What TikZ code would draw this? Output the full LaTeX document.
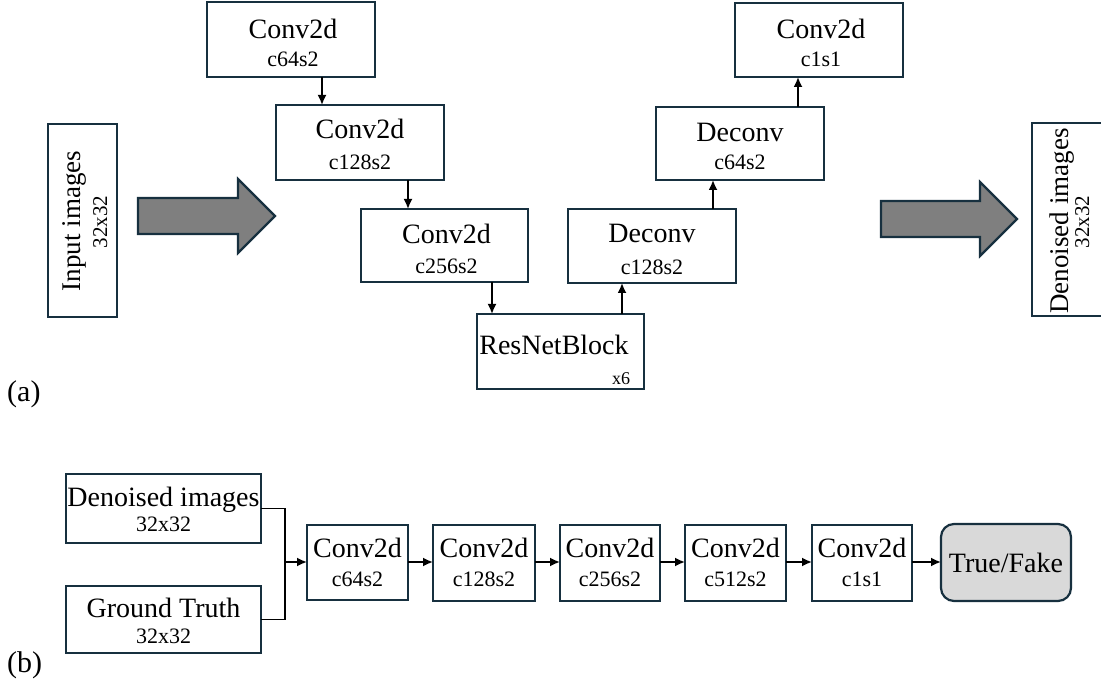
\documentclass[tikz,border=0pt]{standalone}
\usepackage{fontspec}
\setmainfont{Liberation Serif}
\usetikzlibrary{arrows.meta,calc}
\definecolor{edgec}{HTML}{17303F}
\definecolor{tffill}{HTML}{D9D9D9}
\definecolor{bigfill}{HTML}{7F7F7F}
\newcommand\titlesz{\fontsize{28}{30}\selectfont}
\newcommand\subsz{\fontsize{22}{24}\selectfont}
\newcommand\smallsz{\fontsize{18}{20}\selectfont}
\tikzset{
  box/.style={draw=edgec, line width=2.2pt, fill=white, inner sep=0pt, outer sep=0pt, anchor=north west},
  txt/.style={anchor=base, inner sep=0pt, font=\titlesz},
  stxt/.style={anchor=base, inner sep=0pt, font=\subsz},
  conn/.style={line width=1.8pt, -{Latex[length=10pt,width=9pt]}},
  line/.style={line width=1.8pt},
  bigarrow/.style={draw=edgec, line width=2.2pt, fill=bigfill, line join=miter},
}
\begin{document}
\begin{tikzpicture}[x=1pt,y=-1pt]
\clip (0,0) rectangle (1101,684);
\useasboundingbox (0,0) rectangle (1101,684);
% ---------- (a) ----------
\node[box, minimum width=69, minimum height=193] (inp) at (48,124) {};
\node[txt, rotate=90, font=\fontsize{27}{29}\selectfont] (inpt) at (80,221) {Input images};
\node[stxt, rotate=90, font=\fontsize{21}{23}\selectfont] (inps) at (107,222) {32x32};

\node[box, minimum width=71, minimum height=193] (outb) at (1032,123) {};
\node[txt, rotate=90, font=\fontsize{27}{29}\selectfont] (outt) at (1068,221) {Denoised images};
\node[stxt, rotate=90, font=\fontsize{21}{23}\selectfont] (outs) at (1089,222) {32x32};

\draw[bigarrow] (138,198) -- (238,198) -- (238,179) -- (275,216) -- (238,253) -- (238,234) -- (138,234) -- cycle;
\draw[bigarrow] (881,201) -- (980,201) -- (980,182) -- (1017,219) -- (980,256) -- (980,237) -- (881,237) -- cycle;

\node[box, minimum width=168, minimum height=75] (a1) at (207,2) {};
\node[txt] (a1t) at ($(a1.north)+(2,37)$) {Conv2d};
\node[stxt] (a1s) at ($(a1.north)+(2,65)$) {c64s2};

\node[box, minimum width=168, minimum height=75] (a2) at (276,105) {};
\node[txt] (a2t) at ($(a2.north)+(0,34)$) {Conv2d};
\node[stxt] (a2s) at ($(a2.north)+(0,65)$) {c128s2};

\node[box, minimum width=167, minimum height=73] (a3) at (361,209) {};
\node[txt] (a3t) at ($(a3.north)+(2,35)$) {Conv2d};
\node[stxt] (a3s) at ($(a3.north)+(2,65)$) {c256s2};

\node[box, minimum width=167, minimum height=75] (res) at (477,314) {};
\node[txt] (rest) at (554,355) {ResNetBlock};
\node[stxt, font=\smallsz] (ress) at (621,385) {x6};

\node[box, minimum width=168, minimum height=74] (d1) at (568,209) {};
\node[txt] (d1t) at ($(d1.north)+(0,34)$) {Deconv};
\node[stxt] (d1s) at ($(d1.north)+(0,66)$) {c128s2};

\node[box, minimum width=168, minimum height=73] (d2) at (656,107) {};
\node[txt] (d2t) at ($(d2.north)+(0,35)$) {Deconv};
\node[stxt] (d2s) at ($(d2.north)+(0,63)$) {c64s2};

\node[box, minimum width=168, minimum height=74] (a4) at (735,3) {};
\node[txt] (a4t) at ($(a4.north)+(2,36)$) {Conv2d};
\node[stxt] (a4s) at ($(a4.north)+(2,64)$) {c1s1};

\draw[conn] ([xshift=46]a2.north west |- a1.south) -- ([xshift=46]a2.north west);
\draw[conn] ([xshift=47]a3.north west |- a2.south) -- ([xshift=47]a3.north west);
\draw[conn] ([xshift=15]res.north west |- a3.south) -- ([xshift=15]res.north west);
\draw[conn] ([xshift=-22]res.north east) -- ([xshift=-22]res.north east |- d1.south);
\draw[conn] ([xshift=-23]d1.north east) -- ([xshift=-23]d1.north east |- d2.south);
\draw[conn] ([xshift=-26]d2.north east) -- ([xshift=-26]d2.north east |- a4.south);

\node[anchor=base west, inner sep=0pt, font=\fontsize{30}{32}\selectfont] (la) at (7,402) {(a)};

% ---------- (b) ----------
\node[box, minimum width=195, minimum height=69] (den) at (66,474) {};
\node[txt] (dent) at ($(den.north)+(0,33)$) {Denoised images};
\node[stxt] (dens) at ($(den.north)+(0,57)$) {32x32};

\node[box, minimum width=195, minimum height=67] (gt) at (66,586) {};
\node[txt] (gtt) at ($(gt.north)+(0,31)$) {Ground Truth};
\node[stxt] (gts) at ($(gt.north)+(0,57)$) {32x32};

\node[box, minimum width=101, minimum height=75] (b1) at (307,525) {};
\node[txt] (b1t) at ($(b1.north)+(0,33)$) {Conv2d};
\node[stxt] (b1s) at ($(b1.north)+(0,61)$) {c64s2};

\node[box, minimum width=102, minimum height=76] (b2) at (433,525) {};
\node[txt] (b2t) at ($(b2.north)+(0,33)$) {Conv2d};
\node[stxt] (b2s) at ($(b2.north)+(0,61)$) {c128s2};

\node[box, minimum width=100, minimum height=76] (b3) at (560,525) {};
\node[txt] (b3t) at ($(b3.north)+(0,33)$) {Conv2d};
\node[stxt] (b3s) at ($(b3.north)+(0,61)$) {c256s2};

\node[box, minimum width=101, minimum height=76] (b4) at (685,525) {};
\node[txt] (b4t) at ($(b4.north)+(0,33)$) {Conv2d};
\node[stxt] (b4s) at ($(b4.north)+(0,61)$) {c512s2};

\node[box, minimum width=100, minimum height=76] (b5) at (812,525) {};
\node[txt] (b5t) at ($(b5.north)+(0,33)$) {Conv2d};
\node[stxt] (b5s) at ($(b5.north)+(0,61)$) {c1s1};

\node[box, fill=tffill, rounded corners=13pt, minimum width=130, minimum height=77] (tf) at (941,524) {};
\node[txt] (tft) at (1006,572) {True/Fake};

\coordinate (j) at (285,562);
\draw[line] (den.east) -| (j);
\draw[line] (gt.east) -| (j);
\draw[conn] (j) -- (b1.west |- j);
\draw[conn] (b1.east |- j) -- (b2.west |- j);
\draw[conn] (b2.east |- j) -- (b3.west |- j);
\draw[conn] (b3.east |- j) -- (b4.west |- j);
\draw[conn] (b4.east |- j) -- (b5.west |- j);
\draw[conn] (b5.east |- j) -- (tf.west |- j);

\node[anchor=base west, inner sep=0pt, font=\fontsize{30}{32}\selectfont] (lb) at (7,672) {(b)};
\end{tikzpicture}
\end{document}
